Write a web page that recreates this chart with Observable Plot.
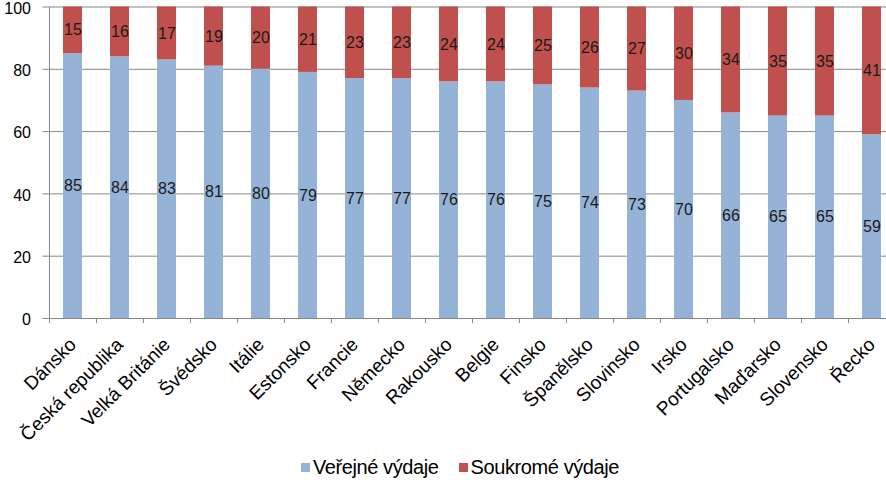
<!DOCTYPE html>
<html><head><meta charset="utf-8">
<script src="https://cdn.jsdelivr.net/npm/d3@7"></script>
<script src="https://cdn.jsdelivr.net/npm/@observablehq/plot@0.6"></script>
<style>
body{margin:0;background:#fff;font-family:"Liberation Sans",Arial,sans-serif;}
#wrap{width:886px;height:480px;overflow:hidden;position:relative;background:#fff;}
#chart svg{max-width:none !important;display:block;}
#legend{position:absolute;left:17px;top:453px;width:886px;height:28px;display:flex;justify-content:center;align-items:center;font-size:20px;color:#000;letter-spacing:-0.4px;}
.item{display:flex;align-items:center;margin:0 10px 0 10px;}
.sw{width:9px;height:9px;margin-right:3px;}
</style></head><body>
<div id="wrap"><div id="chart"></div><div id="legend"></div></div>
<script>
const countries = ["Dánsko","Česká republika","Velká Británie","Švédsko","Itálie","Estonsko","Francie","Německo","Rakousko","Belgie","Finsko","Španělsko","Slovinsko","Irsko","Portugalsko","Maďarsko","Slovensko","Řecko"];
const publicValues = [85,84,83,81,80,79,77,77,76,76,75,74,73,70,66,65,65,59];
const privateValues = [15,16,17,19,20,21,23,23,24,24,25,26,27,30,34,35,35,41];
const seriesNames = ["Veřejné výdaje","Soukromé výdaje"];
const seriesColors = ["#95B3D7","#C0504D"];
const yTicks = [0,20,40,60,80,100];

const rows = [];
countries.forEach((c,i)=>{
  rows.push({country:c, series:seriesNames[0], value:publicValues[i]});
  rows.push({country:c, series:seriesNames[1], value:privateValues[i]});
});

const W = 898, ML = 48.5, MR = 2;
const step = (W - ML - MR) / countries.length;
const gridColor = "#868686";

const chart = Plot.plot({
  width: W, height: 452,
  marginLeft: ML, marginRight: MR, marginTop: 6.5, marginBottom: 134,
  style: {fontFamily: '"Liberation Sans", Arial, sans-serif', color: "#000", background: "#fff", maxWidth: "none", overflow: "visible"},
  x: {type: "band", domain: countries, paddingInner: 0.6, paddingOuter: 0.3},
  y: {domain: [0, 100]},
  color: {domain: seriesNames, range: seriesColors},
  marks: [
    Plot.gridY(yTicks, {stroke: gridColor, strokeOpacity: 1}),
    Plot.barY(rows, {x: "country", y: "value", fill: "series"}),
    Plot.text(rows, Plot.stackY({x: "country", y: "value", z: "series", text: d => String(d.value), fontSize: 16, fill: "#1a1a1a"})),
    Plot.ruleX([countries[0]], {dx: -step/2, y1: 0, y2: 100, stroke: gridColor}),
    Plot.axisY(yTicks, {tickSize: 6, text: null, stroke: gridColor, label: null}),
    Plot.axisY(yTicks, {tickSize: 0, tickPadding: 18, dy: 1.5, fontSize: 16, fill: "#000", label: null}),
    Plot.axisX({tickSize: 5, dx: -step/2, text: null, stroke: gridColor, label: null}),
    Plot.axisX({tickSize: 0, tickPadding: 18, dy: 5, tickRotate: -45, fontSize: 19, fill: "#000", label: null})
  ]
});
document.getElementById("chart").appendChild(chart);

const legend = document.getElementById("legend");
seriesNames.forEach((n,i)=>{
  const it = document.createElement("div"); it.className = "item";
  const sw = document.createElement("div"); sw.className = "sw"; sw.style.background = seriesColors[i];
  const t = document.createElement("span"); t.textContent = n;
  it.appendChild(sw); it.appendChild(t); legend.appendChild(it);
});
</script>
</body></html>
